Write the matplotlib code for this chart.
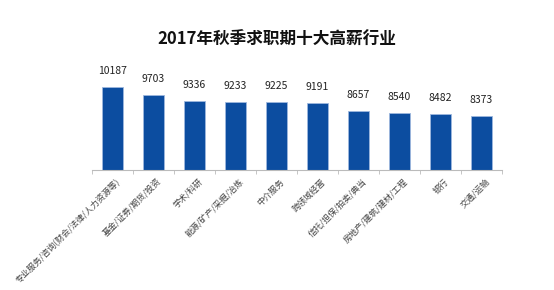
import matplotlib
matplotlib.use("Agg")
import matplotlib.pyplot as plt
import numpy as np

plt.rcParams['font.family'] = ['Noto Sans CJK SC', 'DejaVu Sans']

categories = ["专业服务/咨询(财会/法律/人力资源等)", "基金/证券/期货/投资", "学术/科研",
              "能源/矿产/采掘/冶炼", "中介服务", "跨领域经营", "信托/担保/拍卖/典当",
              "房地产/建筑/建材/工程", "银行", "交通/运输"]
values = [10187, 9703, 9336, 9233, 9225, 9191, 8657, 8540, 8482, 8373]
title = "2017年秋季求职期十大高薪行业"

fig = plt.figure(figsize=(5.54, 2.90), dpi=100)
ax = fig.add_axes([92/554, 1-170/290, 410/554, 110/290])
x = np.arange(len(categories))
bars = ax.bar(x, values, width=0.49, color='#0C4DA0', edgecolor='#9DB8DE', linewidth=0.6)
for xi, v in zip(x, values):
    ax.annotate(str(v), (xi, v), xytext=(0, 8), textcoords='offset points',
                ha='center', va='bottom', fontsize=7.5, color='#222222')
ax.set_xlim(-0.5, len(categories)-0.5)
ax.set_ylim(5000, 11875)
for s in ['top', 'right', 'left']:
    ax.spines[s].set_visible(False)
ax.spines['bottom'].set_color('#BBBBBB')
ax.set_yticks([])
ax.set_xticks(x + 0.08)
ax.set_xticklabels(categories, rotation=45, ha='right', rotation_mode='anchor',
                   fontsize=6.1, color='#444444')
ax.tick_params(axis='x', which='major', length=0, pad=5)
ax.set_xticks(np.arange(-0.5, len(categories)), minor=True)
ax.tick_params(axis='x', which='minor', length=3, color='#BBBBBB')
fig.text(277/554, 1-40/290, title, ha='center', va='center', fontsize=12,
         fontweight='bold', color='#111111')
fig.savefig('out.png', dpi=100)
